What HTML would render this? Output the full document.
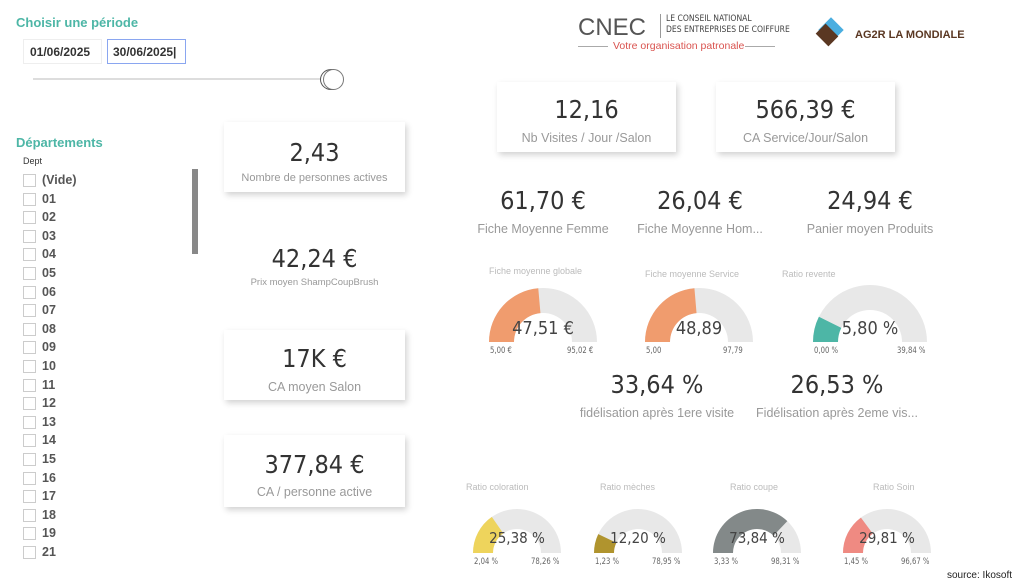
<!DOCTYPE html>
<html><head><meta charset="utf-8"><style>
*{margin:0;padding:0;box-sizing:border-box}
body{width:1024px;height:585px;background:#fff;position:relative;overflow:hidden;font-family:"DejaVu Sans Condensed","Liberation Sans",sans-serif;color:#333}
.a{position:absolute}
.t{font-family:"Liberation Sans",sans-serif;font-weight:bold;color:#4db6a6;font-size:13px}
.card{position:absolute;background:#fff;box-shadow:2px 3px 6px rgba(0,0,0,0.18)}
.num{position:absolute;text-align:center;font-size:25px;color:#333;white-space:nowrap}
.lbl{position:absolute;text-align:center;font-size:12.5px;color:#999;white-space:nowrap;font-family:"Liberation Sans",sans-serif}
.dept{position:absolute;left:23px;font-family:"Liberation Sans",sans-serif;font-weight:bold;font-size:12.5px;color:#555}
.dept i{position:absolute;left:0;top:1px;width:13px;height:13px;border:1px solid #ccc}
.dept span{position:absolute;left:19px;top:0;white-space:nowrap}
.gt{position:absolute;font-size:9px;color:#bbb;font-family:"Liberation Sans",sans-serif;white-space:nowrap}
.gv{position:absolute;font-size:9px;color:#666;white-space:nowrap;transform:scaleX(.85);transform-origin:left}
</style></head><body>
<div class="a t" style="left:16px;top:15px">Choisir une période</div>
<div class="a" style="left:23px;top:39px;width:79px;height:25px;border:1px solid #eee;font-family:'Liberation Sans';font-weight:bold;font-size:12px;padding:5px 0 0 6px">01/06/2025</div>
<div class="a" style="left:107px;top:39px;width:79px;height:25px;border:1.5px solid #8aa6f0;font-family:'Liberation Sans';font-weight:bold;font-size:12px;padding:5px 0 0 5px">30/06/2025|</div>
<div class="a" style="left:33px;top:78px;width:290px;height:2px;background:#ddd"></div>
<div class="a" style="left:320px;top:69px;width:22px;height:21px;border:1.5px solid #555;border-radius:50%;background:#fff"></div>
<div class="a" style="left:323px;top:69px;width:21px;height:21px;border:1.5px solid #777;border-radius:50%;background:#fff"></div>
<div class="a t" style="left:16px;top:135px">Départements</div>
<div class="a" style="left:23px;top:156px;font-size:9px;color:#333;font-family:'Liberation Sans'">Dept</div>
<div class="a" style="left:192px;top:169px;width:6px;height:85px;background:#888"></div>
<div id="depts"></div>

<div class="a" style="left:578px;top:14px;font-family:'Liberation Sans';font-size:24px;color:#555">CNEC</div>
<div class="a" style="left:660px;top:14px;width:1px;height:24px;background:#999"></div>
<div class="a" style="left:666px;top:14px;font-size:8.5px;color:#444;line-height:11px">LE CONSEIL NATIONAL<br>DES ENTREPRISES DE COIFFURE</div>
<div class="a" style="left:578px;top:46px;width:30px;height:1px;background:#aaa"></div>
<div class="a" style="left:745px;top:46px;width:30px;height:1px;background:#aaa"></div>
<div class="a" style="left:613px;top:40px;font-family:'Liberation Sans';font-size:10.5px;color:#d9534f">Votre organisation patronale</div>
<div class="a" style="left:822px;top:21px;width:18px;height:18px;background:#4aaee0;transform:rotate(45deg)"></div>
<div class="a" style="left:818px;top:28px;width:18px;height:14px;background:#5a3722;transform:rotate(45deg)"></div>
<div class="a" style="left:855px;top:29px;font-family:'Liberation Sans';font-weight:bold;font-size:11px;color:#5a3722">AG2R LA MONDIALE</div>

<div class="card" style="left:224px;top:122px;width:181px;height:70px"></div>
<div class="num" style="left:224px;top:138px;width:181px">2,43</div>
<div class="lbl" style="left:224px;top:172px;width:181px;font-size:11px">Nombre de personnes actives</div>
<div class="num" style="left:224px;top:244px;width:181px">42,24 €</div>
<div class="lbl" style="left:224px;top:277px;width:181px;font-size:9.5px">Prix moyen ShampCoupBrush</div>
<div class="card" style="left:224px;top:330px;width:181px;height:70px"></div>
<div class="num" style="left:224px;top:344px;width:181px">17K €</div>
<div class="lbl" style="left:224px;top:380px;width:181px">CA moyen Salon</div>
<div class="card" style="left:224px;top:435px;width:181px;height:72px"></div>
<div class="num" style="left:224px;top:450px;width:181px">377,84 €</div>
<div class="lbl" style="left:224px;top:485px;width:181px">CA / personne active</div>

<div class="card" style="left:497px;top:82px;width:179px;height:70px"></div>
<div class="num" style="left:497px;top:95px;width:179px">12,16</div>
<div class="lbl" style="left:497px;top:131px;width:179px">Nb Visites / Jour /Salon</div>
<div class="card" style="left:716px;top:82px;width:179px;height:70px"></div>
<div class="num" style="left:716px;top:95px;width:179px">566,39 €</div>
<div class="lbl" style="left:716px;top:131px;width:179px">CA Service/Jour/Salon</div>

<div class="num" style="left:443px;top:186px;width:200px">61,70 €</div>
<div class="lbl" style="left:443px;top:222px;width:200px">Fiche Moyenne Femme</div>
<div class="num" style="left:600px;top:186px;width:200px">26,04 €</div>
<div class="lbl" style="left:600px;top:222px;width:200px">Fiche Moyenne Hom...</div>
<div class="num" style="left:770px;top:186px;width:200px">24,94 €</div>
<div class="lbl" style="left:770px;top:222px;width:200px">Panier moyen Produits</div>

<div class="num" style="left:557px;top:370px;width:200px">33,64 %</div>
<div class="lbl" style="left:557px;top:406px;width:200px">fidélisation après 1ere visite</div>
<div class="num" style="left:737px;top:370px;width:200px">26,53 %</div>
<div class="lbl" style="left:737px;top:406px;width:200px">Fidélisation après 2eme vis...</div>

<svg class="a" id="g" style="left:0;top:0" width="1024" height="585"></svg>
<div id="gl"></div>
<div class="a" style="right:12px;top:570px;font-family:'Liberation Sans';font-size:10px;color:#222">source: Ikosoft</div>
<script>
var d=["(Vide)","01","02","03","04","05","06","07","08","09","10","11","12","13","14","15","16","17","18","19","21"],h="";
d.forEach(function(s,i){h+='<div class="dept" style="top:'+(173+i*18.6)+'px"><i></i><span>'+s+'</span></div>'});
document.getElementById("depts").innerHTML=h;
function arc(cx,cy,R,r,f0,f1){var a0=Math.PI*(1-f0),a1=Math.PI*(1-f1),c=Math.cos,s=Math.sin;
return "M"+(cx+R*c(a0))+","+(cy-R*s(a0))+"A"+R+","+R+" 0 0 1 "+(cx+R*c(a1))+","+(cy-R*s(a1))+"L"+(cx+r*c(a1))+","+(cy-r*s(a1))+"A"+r+","+r+" 0 0 0 "+(cx+r*c(a0))+","+(cy-r*s(a0))+"Z";}
var G=[[543,342,54,29,.472,"#f09c6e","Fiche moyenne globale","47,51 €","5,00 €","95,02 €",489,266],
[699,342,54,29,.473,"#f09c6e","Fiche moyenne Service","48,89","5,00","97,79",645,269],
[870,342,57,32,.146,"#4db6a6","Ratio revente","5,80 %","0,00 %","39,84 %",782,269],
[517,553,44,24,.306,"#eed45c","Ratio coloration","25,38 %","2,04 %","78,26 %",466,482],
[638,553,44,24,.141,"#b0942e","Ratio mèches","12,20 %","1,23 %","78,95 %",600,482],
[757,553,44,24,.742,"#838989","Ratio coupe","73,84 %","3,33 %","98,31 %",730,482],
[887,553,44,24,.298,"#ef8a82","Ratio Soin","29,81 %","1,45 %","96,67 %",873,482]];
var sv="",hl="";
G.forEach(function(g){var big=g[2]>50;
sv+='<path d="'+arc(g[0],g[1],g[2],g[3],0,1)+'" fill="#e8e8e8"/><path d="'+arc(g[0],g[1],g[2],g[3],0,g[4])+'" fill="'+g[5]+'"/>';
hl+='<div class="gt" style="left:'+g[10]+'px;top:'+g[11]+'px">'+g[6]+'</div>';
hl+='<div class="a" style="left:'+(g[0]-60)+'px;top:'+(g[1]-(big?24:24))+'px;width:120px;text-align:center;font-size:'+(big?18:15)+'px;color:#444">'+g[7]+'</div>';
hl+='<div class="gv" style="left:'+(g[0]-g[2]+1)+'px;top:'+(g[1]+4)+'px">'+g[8]+'</div>';
hl+='<div class="gv" style="left:'+(g[0]+g[2]-30)+'px;top:'+(g[1]+4)+'px">'+g[9]+'</div>';});
document.getElementById("g").innerHTML=sv;document.getElementById("gl").innerHTML=hl;
</script>
</body></html>
